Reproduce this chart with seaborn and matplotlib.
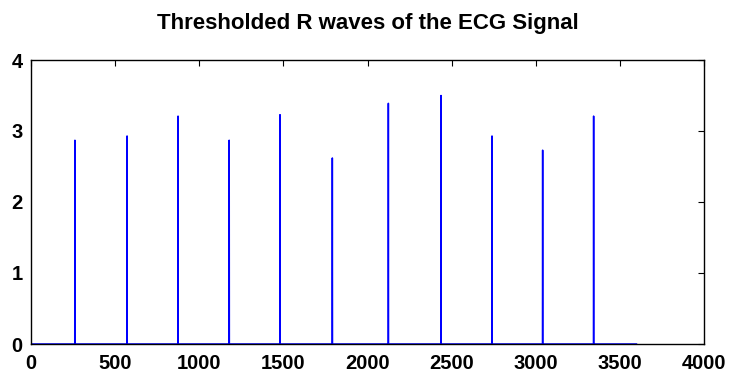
import numpy as np
import pandas as pd
import matplotlib
matplotlib.use("Agg")
import matplotlib.pyplot as plt
import seaborn as sns

# Data
signal_length = 3600
spike_positions = [261, 571, 874, 1178, 1480, 1791, 2124, 2437, 2740, 3041, 3344]
spike_heights = [2.87, 2.93, 3.21, 2.87, 3.23, 2.62, 3.39, 3.50, 2.93, 2.73, 3.21]
x_ticks = [0, 500, 1000, 1500, 2000, 2500, 3000, 3500, 4000]
y_ticks = [0, 1, 2, 3, 4]
title = "Thresholded R waves of the ECG Signal"

# Build the thresholded signal (zero except at detected R peaks)
samples = np.arange(1, signal_length + 1)
values = np.zeros(signal_length)
for p, h in zip(spike_positions, spike_heights):
    values[p - 1] = h
df = pd.DataFrame({"sample": samples, "value": values})

sns.set_style("white")
plt.rcParams["font.family"] = ["Liberation Sans", "DejaVu Sans"]
plt.rcParams["text.color"] = "black"
plt.rcParams["xtick.color"] = "black"
plt.rcParams["ytick.color"] = "black"

fig = plt.figure(figsize=(7.31, 3.72), dpi=100)
ax = fig.add_axes([31 / 731, 1 - 344 / 372, (704 - 31) / 731, (344 - 60) / 372])
sns.lineplot(data=df, x="sample", y="value", color="#0000ff", linewidth=1.1, ax=ax)

ax.set_xlim(0, 4000)
ax.set_ylim(0, 4)
ax.set_xticks(x_ticks)
ax.set_yticks(y_ticks)
ax.set_xlabel("")
ax.set_ylabel("")
ax.tick_params(direction="in", length=4, width=0.8, top=True, right=True,
               labelsize=14.5, color="black", labelcolor="black")
ax.tick_params(axis="x", pad=7)
ax.tick_params(axis="y", pad=6)
for lbl in ax.get_xticklabels() + ax.get_yticklabels():
    lbl.set_fontweight("bold")
for s in ax.spines.values():
    s.set_visible(True)
    s.set_color("black")
    s.set_linewidth(1.0)
ax.set_title(title, fontsize=16, fontweight="bold", pad=22, color="black")

fig.savefig("out.png", dpi=100)
